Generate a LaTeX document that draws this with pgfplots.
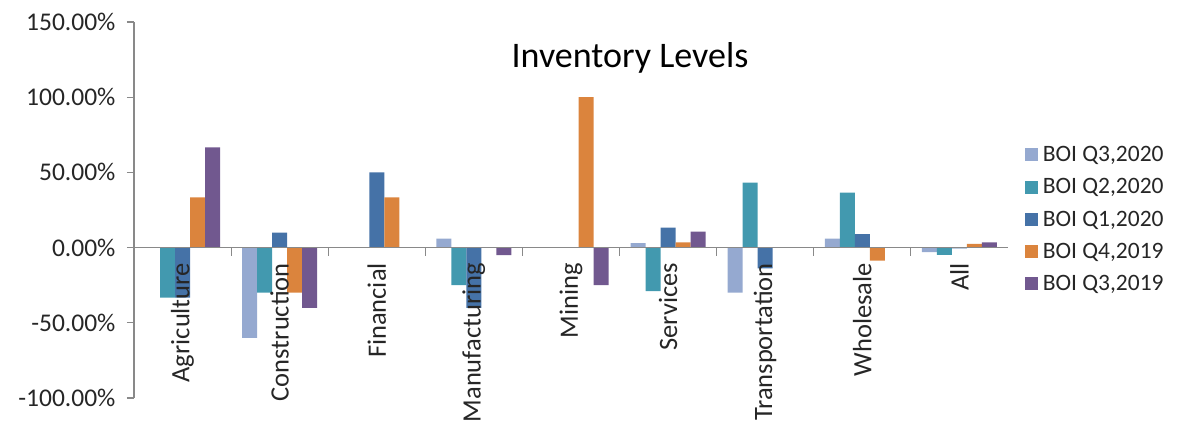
\documentclass[border=0pt]{standalone}
\usepackage{pgfplots}
\pgfplotsset{compat=1.18}
\usepackage{fontspec}
\setmainfont{Carlito}
\definecolor{cA}{HTML}{95A9D0}
\definecolor{cB}{HTML}{4299AF}
\definecolor{cC}{HTML}{4572A7}
\definecolor{cD}{HTML}{DB843D}
\definecolor{cE}{HTML}{71588F}
\definecolor{axgray}{HTML}{898989}
\begin{document}
\begin{tikzpicture}
\begin{axis}[
  scale only axis, width=874pt, height=376pt,
  xmin=-0.5, xmax=8.5, ymin=-100, ymax=150,
  axis x line*=middle, axis y line*=left,
  axis line style={draw=axgray, line width=1.2pt},
  axis on top,
  ybar=0pt, bar width=15pt,
  xtick={0,...,8},
  xticklabels={Agriculture,Construction,Financial,Manufacturing,Mining,Services,Transportation,Wholesale,All},
  minor xtick={0.5,1.5,...,7.5},
  tick align=outside,
  major x tick style={draw=none},
  minor x tick style={draw=axgray, line width=1.2pt},
  major y tick style={draw=axgray, line width=1.2pt},
  minor tick length=8pt, major tick length=7pt,
  hide obscured x ticks=false, hide obscured y ticks=false,
  x tick label style={yshift=-5pt, rotate=90, anchor=east, font=\fontsize{26.5}{30}\selectfont, text=black!85},
  ytick={-100,-50,0,50,100,150},
  yticklabels={-100.00\%,-50.00\%,0.00\%,50.00\%,100.00\%,150.00\%},
  y tick label style={font=\fontsize{25.5}{30}\selectfont, text=black!85, xshift=-8pt},
  legend style={at={(rel axis cs:1.019,0.675)}, anchor=north west, draw=none, fill=none,
    font=\fontsize{23.5}{26}\selectfont, inner sep=0pt, row sep=11.5pt, column sep=3pt, text=black!85},
  legend cell align=left,
  legend image code/.code={\fill[#1] (0pt,-6.5pt) rectangle (13pt,6.5pt);},
  clip=false,
]
\addplot[fill=cA, draw=none] coordinates {(0,0) (1,-60) (2,0) (3,6) (4,0) (5,3) (6,-30) (7,6) (8,-3)};
\addplot[fill=cB, draw=none] coordinates {(0,-33.33) (1,-30) (2,0) (3,-25) (4,0) (5,-29) (6,43.2) (7,36.5) (8,-4.9)};
\addplot[fill=cC, draw=none] coordinates {(0,-33.33) (1,10) (2,50) (3,-40) (4,0) (5,13.2) (6,-13.8) (7,9) (8,-0.5)};
\addplot[fill=cD, draw=none] coordinates {(0,33.33) (1,-30) (2,33.33) (3,0) (4,100) (5,3.5) (6,0) (7,-8.7) (8,2.4)};
\addplot[fill=cE, draw=none] coordinates {(0,66.67) (1,-40) (2,0) (3,-5) (4,-25) (5,10.6) (6,0) (7,0) (8,3.5)};
\legend{BOI Q3\kern0pt{,}2020, BOI Q2\kern0pt{,}2020, BOI Q1\kern0pt{,}2020, BOI Q4\kern0pt{,}2019, BOI Q3\kern0pt{,}2019}
\node[font=\fontsize{36}{40}\selectfont, text=black] at (rel axis cs:0.5675,0.905) {Inventory Levels};
\end{axis}
\pgfresetboundingbox
\useasboundingbox (-134pt,-25pt) rectangle (1043pt,398pt);
\end{tikzpicture}
\end{document}
